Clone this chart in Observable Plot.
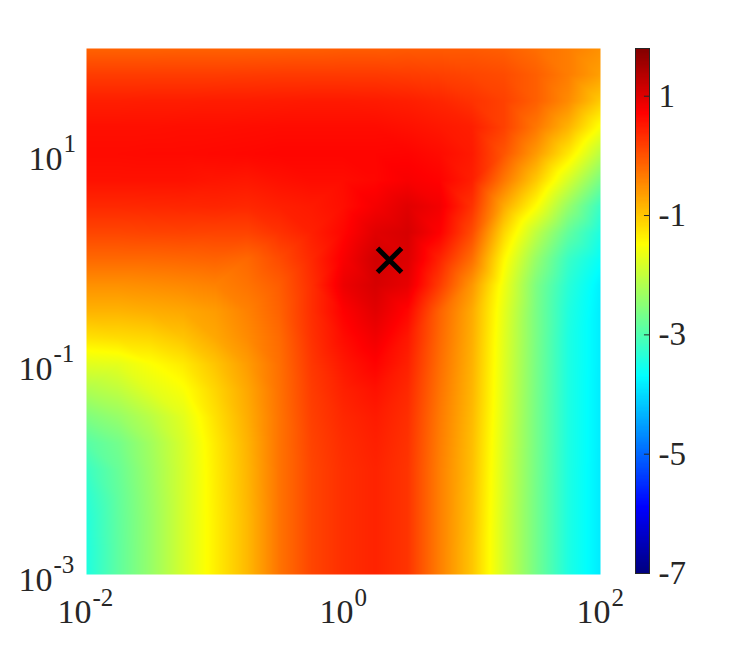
<!DOCTYPE html>
<html><head><meta charset="utf-8">
<script src="https://cdn.jsdelivr.net/npm/d3@7"></script>
<script src="https://cdn.jsdelivr.net/npm/@observablehq/plot@0.6"></script>
<style>html,body{margin:0;padding:0;background:#fff}#c{position:relative;width:733px;height:645px}#c svg{position:absolute;left:0;top:0;background:transparent}</style>
</head><body><div id="c"></div>
<script>
const xExponents = [-2,-1.75,-1.5,-1.25,-1,-0.75,-0.5,-0.25,0,0.25,0.5,0.75,1,1.25,1.5,1.75,2];
const yExponents = [2,1.75,1.5,1.25,1,0.75,0.5,0.25,0,-0.25,-0.5,-0.75,-1,-1.25,-1.5,-1.75,-2,-2.25,-2.5,-2.75,-3];
const grid = [
[-.15,-.15,-.15,-.14,-.14,-.14,-.13,-.12,-.1,-.1,-.08,-.08,-.08,-.12,-.25,-.38,-.55],
[.18,.18,.18,.18,.18,.19,.2,.2,.2,.2,.18,.15,.1,.05,-.12,-.38,-.68],
[.44,.44,.45,.45,.46,.46,.47,.48,.48,.47,.44,.38,.27,.14,-.12,-.5,-1.05],
[.57,.57,.57,.58,.58,.59,.6,.6,.6,.6,.56,.5,.44,.14,-.33,-.85,-1.55],
[.61,.61,.62,.62,.63,.64,.66,.66,.66,.66,.67,.6,.48,-.03,-.63,-1.3,-2.1],
[.55,.55,.55,.55,.52,.5,.56,.6,.6,.65,.75,.68,.44,-.33,-1.03,-1.85,-2.65],
[.35,.35,.36,.37,.38,.36,.43,.48,.58,.78,.96,.8,.27,-.77,-1.5,-2.4,-3.2],
[.1,.1,.12,.13,.12,.12,.27,.43,.65,.96,1.05,.7,.05,-1.15,-2.05,-2.85,-3.45],
[-.2,-.2,-.2,-.18,-.15,-.2,.05,.35,.75,1.1,1,.4,-.25,-1.45,-2.4,-3.2,-3.65],
[-.55,-.55,-.52,-.48,-.42,-.3,-.1,.3,.85,1.05,.9,.18,-.6,-1.63,-2.62,-3.35,-3.82],
[-.85,-.85,-.8,-.75,-.65,-.42,-.15,.3,.7,.95,.65,-.15,-.77,-1.72,-2.65,-3.42,-3.85],
[-1.25,-1.2,-1.15,-1,-.75,-.5,-.22,.27,.6,.82,.5,-.2,-.8,-1.76,-2.65,-3.45,-3.85],
[-1.76,-1.72,-1.52,-1.33,-1,-.65,-.26,.22,.5,.68,.42,-.25,-.83,-1.78,-2.66,-3.45,-3.85],
[-2.2,-2.05,-1.75,-1.55,-1.15,-.75,-.28,.18,.42,.55,.35,-.3,-.86,-1.8,-2.67,-3.45,-3.86],
[-2.6,-2.4,-2.1,-1.75,-1.25,-.8,-.3,.15,.36,.47,.3,-.35,-.9,-1.82,-2.68,-3.45,-3.86],
[-2.95,-2.7,-2.3,-1.85,-1.33,-.85,-.3,.12,.32,.43,.27,-.38,-.93,-1.85,-2.68,-3.45,-3.86],
[-3.2,-2.8,-2.35,-1.87,-1.35,-.87,-.3,.1,.3,.4,.25,-.4,-.95,-1.87,-2.69,-3.45,-3.87],
[-3.33,-2.85,-2.38,-1.87,-1.36,-.88,-.3,.1,.3,.4,.25,-.4,-.97,-1.88,-2.7,-3.45,-3.87],
[-3.4,-2.87,-2.4,-1.87,-1.37,-.9,-.3,.1,.3,.4,.25,-.4,-.98,-1.9,-2.7,-3.45,-3.87],
[-3.43,-2.88,-2.4,-1.87,-1.37,-.9,-.3,.1,.3,.4,.25,-.4,-1,-1.9,-2.7,-3.45,-3.87],
[-3.44,-2.88,-2.4,-1.87,-1.37,-.9,-.3,.1,.3,.4,.25,-.4,-1,-1.9,-2.7,-3.45,-3.87]
];
const marker = [{x: 2.28, y: 0.97}];
const xTickExp = [-2, 0, 2];
const yTickExp = [-3, -1, 1];
const colorTicks = [-7, -5, -3, -1, 1];
const colorDomain = [-7, -5.9, -3.7, -1.5, 0.7, 1.8];
const colorRange = ["#000080", "#0000ff", "#00ffff", "#ffff00", "#ff0000", "#800000"];
const colorLevels = d3.range(-7, 1.8, 0.02);

const ink = "#262626", serif = "Liberation Serif";
const table = grid.flatMap((row, i) => row.map((v, j) => ({x: 10 ** xExponents[j], y: 10 ** yExponents[i], v})));
const color = {type: "linear", domain: colorDomain, range: colorRange, interpolate: "rgb"};

const xLabels = xTickExp.map(e => ({x: 10 ** e, y: 0.001, e: String(e), shift: e < 0 ? 5 : 10}));
const yLabels = yTickExp.map(e => ({x: 0.01, y: 10 ** e, e: String(e), shift: e < 0 ? -34 : -24}));

const main = Plot.plot({
  width: 733, height: 645, marginLeft: 86, marginRight: 133, marginTop: 48, marginBottom: 71,
  x: {type: "log", domain: [0.01, 100], axis: null},
  y: {type: "log", domain: [0.001, 100], axis: null},
  color,
  marks: [
    Plot.raster(table, {x: "x", y: "y", fill: "v", interpolate: "barycentric", pixelSize: 1}),
    Plot.dot(marker, {x: "x", y: "y", symbol: "times", r: 11, stroke: "#000", strokeWidth: 5}),
    ...xLabels.flatMap(d => [
      Plot.text([d], {x: "x", y: "y", text: () => "10", textAnchor: "end", lineAnchor: "bottom", dx: d.shift, dy: 48, fontSize: 34, fontFamily: serif, fill: ink}),
      Plot.text([d], {x: "x", y: "y", text: "e", textAnchor: "start", lineAnchor: "bottom", dx: d.shift + 1, dy: 31, fontSize: 25, fontFamily: serif, fill: ink})
    ]),
    ...yLabels.flatMap(d => [
      Plot.text([d], {x: "x", y: "y", text: () => "10", textAnchor: "end", lineAnchor: "bottom", dx: d.shift, dy: 16, fontSize: 34, fontFamily: serif, fill: ink}),
      Plot.text([d], {x: "x", y: "y", text: "e", textAnchor: "start", lineAnchor: "bottom", dx: d.shift + 1, dy: -2, fontSize: 25, fontFamily: serif, fill: ink})
    ])
  ]
});

const bar = Plot.plot({
  width: 733, height: 645, marginLeft: 635, marginRight: 84, marginTop: 48, marginBottom: 72,
  x: {domain: [0, 1], axis: null},
  y: {domain: [-7, 1.8], axis: null},
  color,
  marks: [
    Plot.rect(colorLevels, {x1: 0, x2: 1, y1: d => d, y2: d => Math.min(d + 0.04, 1.8), fill: d => d, shapeRendering: "crispEdges"}),
    Plot.ruleY(colorTicks, {x1: 0.64, x2: 1, stroke: ink, strokeWidth: 1}),
    Plot.frame({stroke: ink, strokeWidth: 1}),
    Plot.axisY(colorTicks, {anchor: "right", tickSize: 0, tickPadding: 9, textAnchor: "start", fontSize: 33, fontFamily: serif, fill: ink, tickFormat: d => String(d)})
  ]
});
const c = document.getElementById("c");
c.append(main, bar);
</script></body></html>
